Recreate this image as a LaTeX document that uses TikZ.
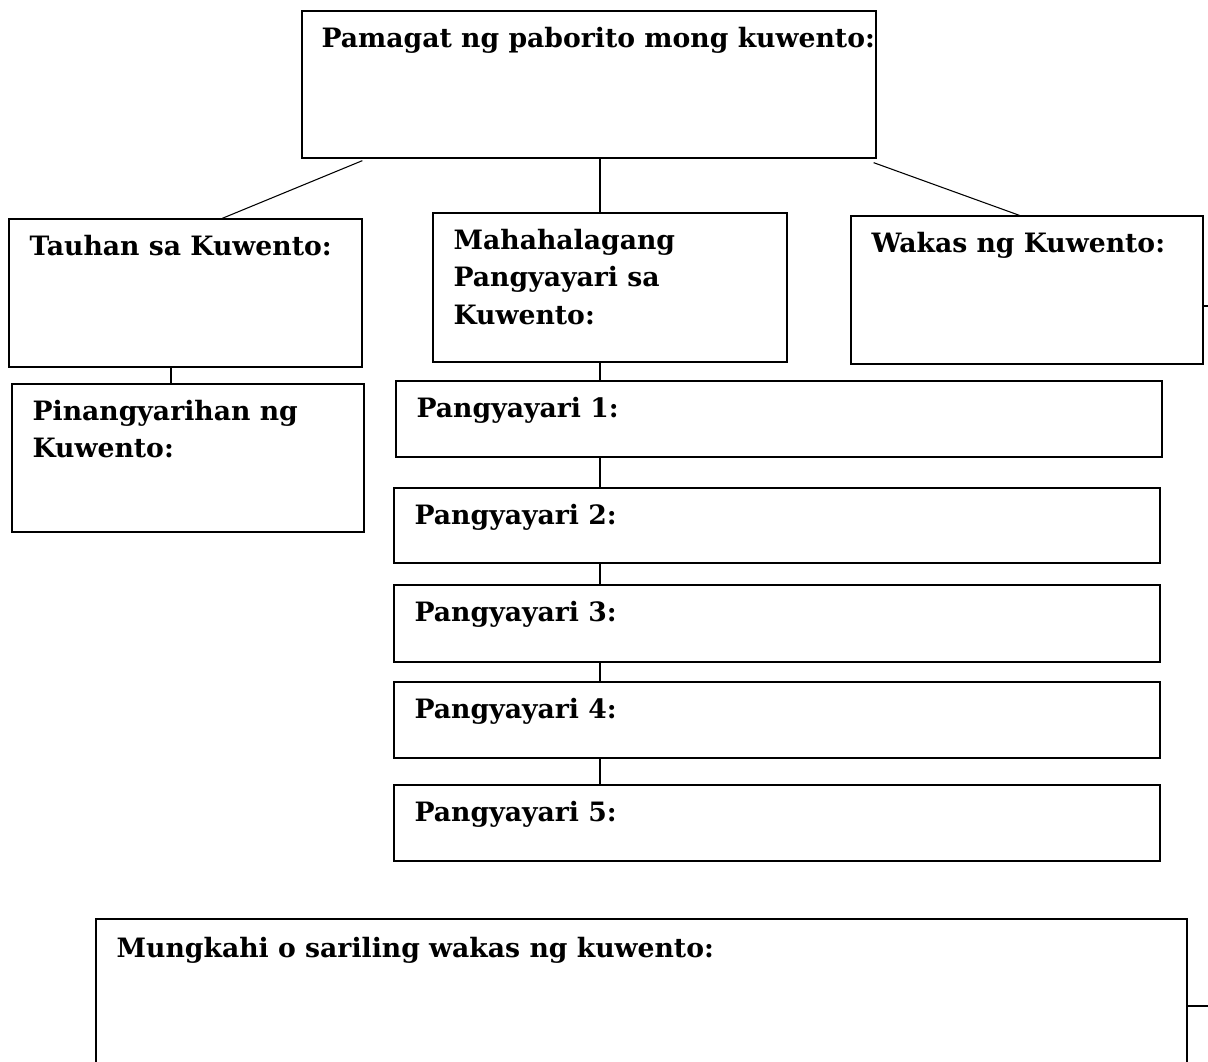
\documentclass[tikz,border=0pt]{standalone}
\usepackage{fontspec}
\setmainfont{DejaVu Serif}
\usetikzlibrary{fit,calc}

\begin{document}
\begin{tikzpicture}[x=0.75pt,y=-0.75pt,
        box/.style={draw, line width=1pt, inner sep=0pt},
        lbl/.style={anchor=north west, inner sep=0pt, align=left,
            font=\fontsize{20}{28}\selectfont\bfseries},
        link/.style={line width=0.8pt}]
        \clip (0,0) rectangle (1208,1062);
        %% upper boxes
        \node[box, fit={(302,11) (876,158)}] (title) {};
        \node[box, fit={(9,219) (362,367)}] (tauhan) {};
        \node[box, fit={(433,213) (787,362)}] (mahalaga) {};
        \node[box, fit={(851,216) (1203,364)}] (wakas) {};
        \node[box, fit={(12,384) (364,532)}] (lugar) {};
        \node[box, fit={(96,919) (1187,1100)}] (mungkahi) {};
        %% events
        \foreach \i/\l/\t/\r/\b in {1/396/381/1162/457, 2/394/488/1160/563,
            3/394/585/1160/662, 4/394/682/1160/758, 5/394/785/1160/861}
            \node[box, fit={(\l,\t) (\r,\b)}] (p\i) {};
        %% texts
        \node[lbl] (titletxt) at ($(title.north west)+(20,10.9)$) {\strut Pamagat ng paborito mong kuwento:};
        \node[lbl] (tauhantxt) at ($(tauhan.north west)+(21,10.9)$) {\strut Tauhan sa Kuwento:};
        \node[lbl] (mahalagatxt) at ($(mahalaga.north west)+(21,10.9)$) {\strut Mahahalagang\\Pangyayari sa\\Kuwento:};
        \node[lbl] (wakastxt) at ($(wakas.north west)+(21,10.9)$) {\strut Wakas ng Kuwento:};
        \node[lbl] (lugartxt) at ($(lugar.north west)+(21,10.9)$) {\strut Pinangyarihan ng\\Kuwento:};
        \node[lbl] (mungkahitxt) at ($(mungkahi.north west)+(21,12.9)$) {\strut Mungkahi o sariling wakas ng kuwento:};
        \foreach \i in {1,...,5}
            \node[lbl] (p\i txt) at ($(p\i.north west)+(21,10.9)$) {\strut Pangyayari \i:};
        %% connectors
        \coordinate (trunk) at (600,0);
        \coordinate (side) at (171,0);
        \draw[link] ($(title.south west)+(61,2)$) -- ($(tauhan.north west)+(214,0)$);
        \draw[link] (title.south -| trunk) -- (mahalaga.north -| trunk);
        \draw[link] ($(title.south east)+(-3,4)$) -- ($(wakas.north west)+(169,0)$);
        \draw[link] (tauhan.south -| side) -- (lugar.north -| side);
        \draw[link] (mahalaga.south -| trunk) -- (p1.north -| trunk);
        \foreach \i/\j in {1/2, 2/3, 3/4, 4/5}
            \draw[link] (p\i.south -| trunk) -- (p\j.north -| trunk);
        %% stray ticks at the right edge
        \draw[link] (wakas.north east |- 0,306) -- ++(6,0);
        \draw[link] (mungkahi.north east |- 0,1006) -- ++(22,0);
    \end{tikzpicture}
\end{document}
